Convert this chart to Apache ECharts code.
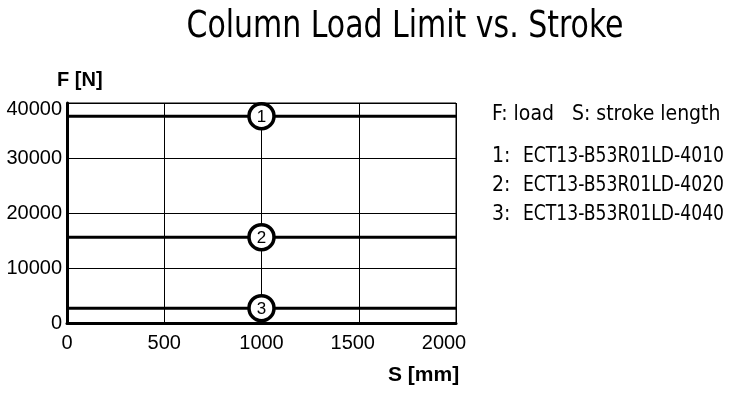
<!DOCTYPE html>
<html><head><meta charset="utf-8">
<script src="https://cdn.jsdelivr.net/npm/echarts@6/dist/echarts.min.js"></script>
<style>html,body{margin:0;padding:0;background:#fff}#c{width:750px;height:412px}</style>
</head><body><div id="c"></div>
<script>
const strokes = [0, 2000];
const markerStroke = 1000;
const loads = [37600, 15600, 2700];
const markerLabels = ['1', '2', '3'];
const models = ['ECT13-B53R01LD-4010', 'ECT13-B53R01LD-4020', 'ECT13-B53R01LD-4040'];
const xTicks = [0, 500, 1000, 1500, 2000];
const yTicks = [0, 10000, 20000, 30000, 40000];
const titleText = 'Column Load Limit vs. Stroke';
const legendHeader = 'F: load   S: stroke length';

const narrow = '"Liberation Sans Narrow", "DejaVu Sans Condensed", sans-serif';
const sans = '"Liberation Sans", Arial, sans-serif';

const chart = echarts.init(document.getElementById('c'));
const series = loads.map((v, i) => ({
  type: 'line', name: models[i], symbol: 'none', silent: true,
  data: strokes.map(s => [s, v]),
  lineStyle: { color: '#000', width: 3 }, z: 3
}));
series.push({
  type: 'scatter', symbol: 'circle', symbolSize: 25, z: 5,
  data: loads.map((v, i) => ({ value: [markerStroke, v], label: { formatter: markerLabels[i] } })),
  itemStyle: { color: '#fff', borderColor: '#000', borderWidth: 3.5, opacity: 1 },
  label: { show: true, position: 'inside', color: '#000', fontFamily: sans, fontSize: 17, offset: [0, 1] }
});

const legendY = [115, 157, 186, 215];
const graphics = [
  { type: 'text', x: 405, y: 27, scaleX: 0.9, style: { text: titleText, fontFamily: narrow, fontSize: 37, fill: '#000', textAlign: 'center', textVerticalAlign: 'middle' } },
  { type: 'text', left: 57, top: 70, style: { text: 'F [N]', fontFamily: sans, fontWeight: 'bold', fontSize: 20, fill: '#000' } },
  { type: 'text', left: 388, top: 365, style: { text: 'S [mm]', fontFamily: sans, fontWeight: 'bold', fontSize: 21, fill: '#000' } },
  { type: 'text', x: 492, y: legendY[0], style: { text: legendHeader, fontFamily: narrow, fontSize: 21, fill: '#000', textVerticalAlign: 'middle' } }
];
models.forEach((m, i) => {
  graphics.push({ type: 'text', x: 492, y: legendY[i + 1], style: { text: markerLabels[i] + ':', fontFamily: narrow, fontSize: 21, fill: '#000', textVerticalAlign: 'middle' } });
  graphics.push({ type: 'text', x: 523, y: legendY[i + 1], scaleX: 0.91, style: { text: m, fontFamily: narrow, fontSize: 21, fill: '#000', textVerticalAlign: 'middle' } });
});

chart.setOption({
  animation: false,
  grid: { left: 67, right: 294, top: 103, bottom: 89, show: true, borderColor: '#000', borderWidth: 1 },
  xAxis: {
    type: 'value', min: 0, max: 2000, interval: 500,
    axisLine: { show: true, lineStyle: { color: '#000', width: 3 } },
    axisTick: { show: false },
    splitLine: { show: true, lineStyle: { color: '#000', width: 1 } },
    axisLabel: { color: '#000', fontFamily: sans, fontSize: 20, margin: 10,
      formatter: v => {
        if (!xTicks.includes(v)) return '';
        if (v === 2000) return '{r2|' + v + '}';
        if (v === 1500) return '{r1|' + v + '}';
        return '{n|' + v + '}';
      },
      rich: {
        n: { fontFamily: sans, fontSize: 20, color: '#000' },
        r1: { fontFamily: sans, fontSize: 20, color: '#000', padding: [0, 12, 0, 0] },
        r2: { fontFamily: sans, fontSize: 20, color: '#000', padding: [0, 24, 0, 0] }
      }
    }
  },
  yAxis: {
    type: 'value', min: 0, max: 40000, interval: 10000,
    axisLine: { show: true, lineStyle: { color: '#000', width: 3 } },
    axisTick: { show: false },
    splitLine: { show: true, lineStyle: { color: '#000', width: 1 } },
    axisLabel: { color: '#000', fontFamily: sans, fontSize: 20, margin: 5,
      formatter: v => {
        if (!yTicks.includes(v)) return '';
        if (v === 40000) return '{t|' + v + '}';
        return '{n|' + v + '}';
      },
      rich: {
        n: { fontFamily: sans, fontSize: 20, color: '#000' },
        t: { fontFamily: sans, fontSize: 20, color: '#000', padding: [12, 0, 0, 0] }
      }
    }
  },
  graphic: graphics,
  series
});
</script></body></html>
